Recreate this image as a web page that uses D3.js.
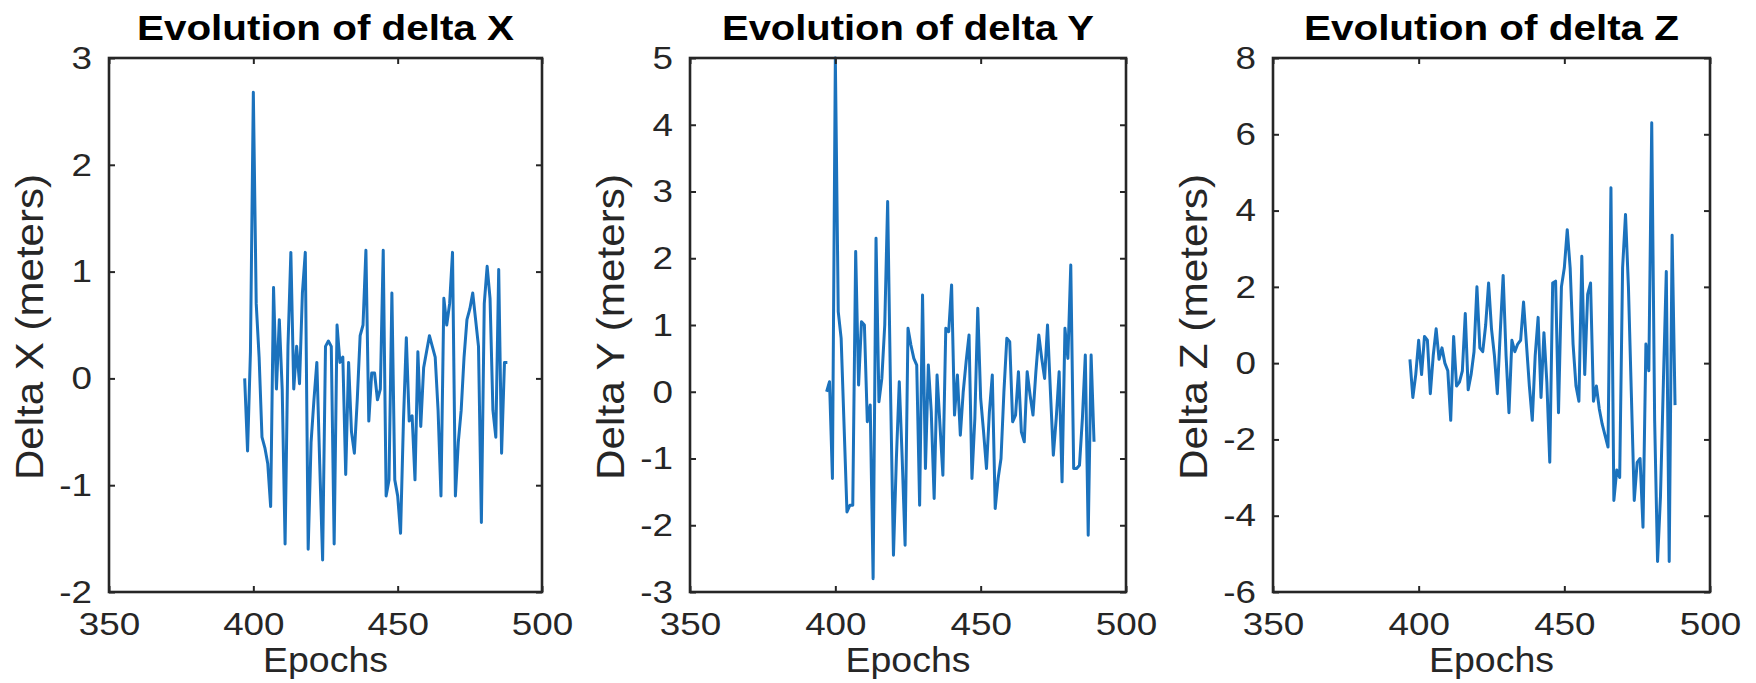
<!DOCTYPE html>
<html>
<head>
<meta charset="utf-8">
<script src="https://cdn.jsdelivr.net/npm/d3@7"></script>
<style>
  html, body { margin: 0; padding: 0; background: #ffffff; }
  svg { display: block; font-family: "Liberation Sans", Arial, Helvetica, sans-serif; }
</style>
</head>
<body>
<svg id="chart" width="1756" height="683"></svg>
<script>
// ---------------- data ----------------
const epochs = [397, 398, 399, 400, 401, 402, 403, 404, 405, 406, 407, 408, 409, 410, 411, 412, 413, 414, 415, 416,
  417, 418, 419, 420, 421, 422, 423, 424, 425, 426, 427, 428, 429, 430, 431, 432, 433, 434, 435, 436,
  437, 438, 439, 440, 441, 442, 443, 444, 445, 446, 447, 448, 449, 450, 451, 452, 453, 454, 455, 456,
  457, 458, 459, 460, 461, 462, 463, 464, 465, 466, 467, 468, 469, 470, 471, 472, 473, 474, 475, 476,
  477, 478, 479, 480, 481, 482, 483, 484, 485, 486, 487, 488, 489];

const deltaX = [0.0, -0.68, 0.25, 2.68, 0.7, 0.2, -0.55, -0.65, -0.8, -1.2,
  0.85, -0.1, 0.55, -0.1, -1.55, 0.3, 1.18, -0.1, 0.3, -0.05,
  0.8, 1.18, -1.6, -0.6, -0.2, 0.15, -0.8, -1.7, 0.3, 0.35,
  0.3, -1.55, 0.5, 0.15, 0.2, -0.9, 0.15, -0.5, -0.7, -0.2,
  0.4, 0.5, 1.2, -0.4, 0.05, 0.05, -0.2, -0.1, 1.2, -1.1,
  -0.95, 0.8, -0.95, -1.1, -1.45, -0.4, 0.38, -0.4, -0.35, -0.95,
  0.25, -0.45, 0.1, 0.25, 0.4, 0.3, 0.2, -0.3, -1.1, 0.75,
  0.5, 0.7, 1.18, -1.1, -0.6, -0.3, 0.2, 0.55, 0.65, 0.8,
  0.55, 0.3, -1.35, 0.7, 1.05, 0.75, -0.3, -0.55, 1.02, -0.7,
  0.15, 0.15];

const deltaY = [0.0, 0.15, -1.3, 5.0, 1.2, 0.8, -0.5, -1.8, -1.7, -1.7,
  2.1, 0.1, 1.05, 1.0, -0.45, -0.2, -2.8, 2.3, -0.15, 0.2,
  1.0, 2.85, 0.0, -2.45, -1.0, 0.15, -1.0, -2.3, 0.95, 0.7,
  0.5, 0.4, -1.7, 1.45, -1.15, 0.4, -0.3, -1.6, 0.25, -0.5,
  -1.25, 0.95, 0.9, 1.6, -0.35, 0.25, -0.65, 0.0, 0.45, 0.85,
  -1.3, -0.4, 1.25, -0.1, -0.6, -1.15, -0.3, 0.25, -1.75, -1.3,
  -1.0, 0.0, 0.8, 0.75, -0.45, -0.35, 0.3, -0.6, -0.75, 0.3,
  -0.05, -0.35, 0.3, 0.85, 0.5, 0.2, 1.0, 0.0, -0.95, -0.4,
  0.3, -1.35, 0.95, 0.5, 1.9, -1.15, -1.15, -1.1, -0.4, 0.55,
  -2.15, 0.55, -0.75];

const deltaZ = [0.1, -0.9, -0.3, 0.6, -0.3, 0.7, 0.6, -0.8, 0.2, 0.9,
  0.1, 0.4, 0.0, -0.2, -1.5, 0.7, -0.6, -0.5, -0.2, 1.3,
  -0.7, -0.3, 0.3, 2.0, 0.4, 0.3, 1.0, 2.1, 0.9, 0.2,
  -0.8, 0.8, 2.3, 0.2, -1.3, 0.6, 0.3, 0.5, 0.6, 1.6,
  0.5, -0.6, -1.5, 0.2, 1.2, -0.9, 0.8, -0.5, -2.6, 2.1,
  2.15, -1.3, 2.0, 2.5, 3.5, 2.5, 0.5, -0.6, -1.0, 2.8,
  -0.3, 1.8, 2.1, -1.0, -0.6, -1.2, -1.6, -1.9, -2.2, 4.6,
  -3.6, -2.8, -3.0, 2.5, 3.9, 2.0, -0.8, -3.6, -2.6, -2.5,
  -4.3, 0.5, -0.2, 6.3, -1.5, -5.2, -3.5, -0.5, 2.4, -5.2,
  3.35, -1.1];

const xTickValues = [350, 400, 450, 500];
const yTicksX = [-2, -1, 0, 1, 2, 3];
const yTicksY = [-3, -2, -1, 0, 1, 2, 3, 4, 5];
const yTicksZ = [-6, -4, -2, 0, 2, 4, 6, 8];

const titles = ["Evolution of delta X", "Evolution of delta Y", "Evolution of delta Z"];
const yLabels = ["Delta X (meters)", "Delta Y (meters)", "Delta Z (meters)"];
const xLabel = "Epochs";

// ---------------- layout ----------------
const panels = [
  { left: 109, right: 542, values: deltaX, ticks: yTicksX, title: titles[0], ylab: yLabels[0] },
  { left: 690, right: 1126, values: deltaY, ticks: yTicksY, title: titles[1], ylab: yLabels[1] },
  { left: 1273, right: 1710, values: deltaZ, ticks: yTicksZ, title: titles[2], ylab: yLabels[2] }
];
const plotTop = 58, plotBottom = 592;
const axisColor = "#262626";
const lineColor = "#1b72bd";

const svg = d3.select("#chart");

function stretch(sel, factor) {
  sel.each(function () {
    const w = this.getComputedTextLength();
    this.setAttribute("textLength", w * factor);
    this.setAttribute("lengthAdjust", "spacingAndGlyphs");
  });
}
function fixLen(sel, len) {
  sel.attr("textLength", len).attr("lengthAdjust", "spacingAndGlyphs");
}

const titleLens = [377, 372, 375];

panels.forEach((p, i) => {
  const W = p.right - p.left, H = plotBottom - plotTop;
  const g = svg.append("g").attr("transform", `translate(${p.left},${plotTop})`);
  const x = d3.scaleLinear().domain([350, 500]).range([0, W]);
  const y = d3.scaleLinear().domain(d3.extent(p.ticks)).range([H, 0]);
  const fmt = d => String(d);

  // line
  const pts = p.values.map((v, k) => [epochs[k], v]);
  g.append("path")
    .datum(pts)
    .attr("fill", "none")
    .attr("stroke", lineColor)
    .attr("stroke-width", 3)
    .attr("stroke-linejoin", "round")
    .attr("d", d3.line().x(d => x(d[0])).y(d => y(d[1])));

  // axes (ticks inward, box)
  const bx = g.append("g").attr("transform", `translate(0,${H})`)
    .call(d3.axisBottom(x).tickValues(xTickValues).tickFormat(fmt).tickSizeInner(-6).tickSizeOuter(0).tickPadding(20));
  const tx = g.append("g")
    .call(d3.axisTop(x).tickValues(xTickValues).tickFormat("").tickSizeInner(-6).tickSizeOuter(0));
  const ly = g.append("g")
    .call(d3.axisLeft(y).tickValues(p.ticks).tickFormat(fmt).tickSizeInner(-6).tickSizeOuter(0).tickPadding(17));
  const ry = g.append("g").attr("transform", `translate(${W},0)`)
    .call(d3.axisRight(y).tickValues(p.ticks).tickFormat("").tickSizeInner(-6).tickSizeOuter(0));

  [bx, tx, ly, ry].forEach(a => {
    a.select(".domain").remove();
    a.selectAll(".tick line").attr("stroke", axisColor).attr("stroke-width", 2);
    a.selectAll(".tick text").attr("fill", axisColor).style("font-size", "32px")
      .style("font-family", '"Liberation Sans", Arial, Helvetica, sans-serif');
  });
  stretch(bx.selectAll(".tick text"), 1.15);
  stretch(ly.selectAll(".tick text"), 1.15);

  // frame
  g.append("rect")
    .attr("x", 0).attr("y", 0).attr("width", W).attr("height", H)
    .attr("fill", "none").attr("stroke", axisColor).attr("stroke-width", 2.6);

  // title
  const t = g.append("text")
    .attr("x", W / 2).attr("y", -18)
    .attr("text-anchor", "middle")
    .attr("fill", "#000")
    .style("font-size", "35px").style("font-weight", "bold")
    .text(p.title);
  fixLen(t, titleLens[i]);

  // x label
  const xl = g.append("text")
    .attr("x", W / 2).attr("y", 672 - plotTop)
    .attr("text-anchor", "middle")
    .attr("fill", axisColor)
    .style("font-size", "35px")
    .text(xLabel);
  fixLen(xl, 125);

  // y label
  const yl = g.append("text")
    .attr("transform", `translate(${-66},${H / 2 + 2}) rotate(-90)`)
    .attr("text-anchor", "middle")
    .attr("fill", axisColor)
    .style("font-size", "38px")
    .text(p.ylab);
  fixLen(yl, 306);
});
</script>
</body>
</html>
